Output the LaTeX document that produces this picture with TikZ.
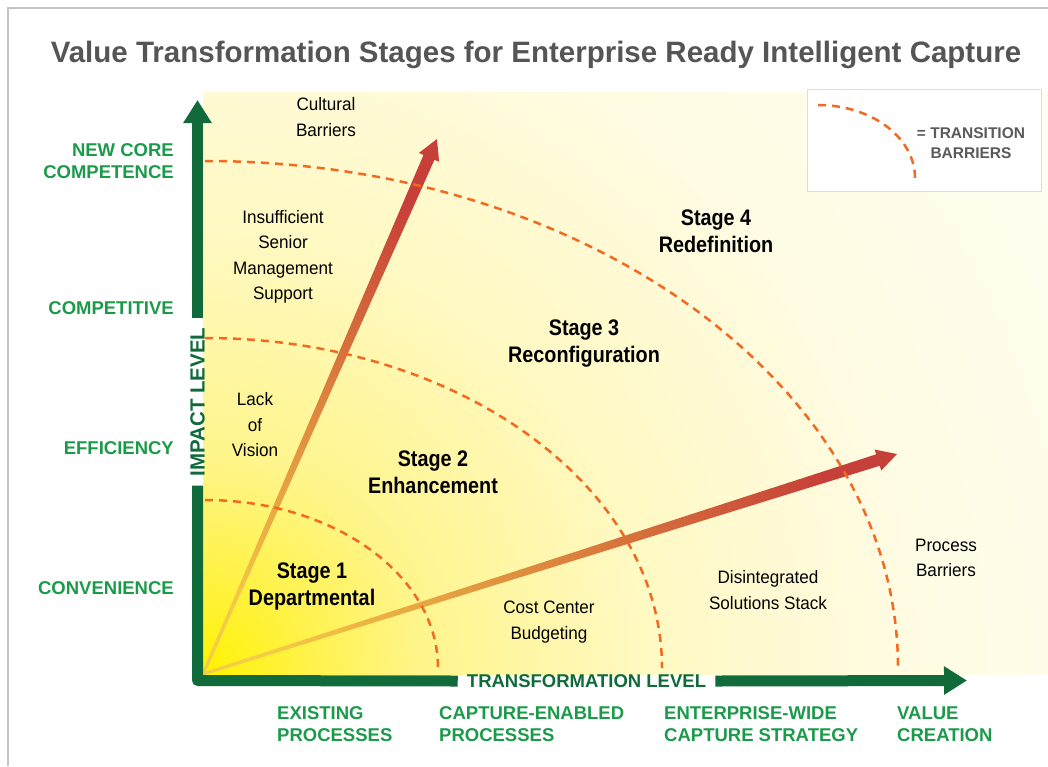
\documentclass[tikz,border=0pt]{standalone}
\usepackage{fontspec}
\setmainfont{Liberation Sans}
\newfontfamily\condfont{Liberation Sans}[FakeStretch=0.88]
\newfontfamily\bodyfont{Liberation Sans}[FakeStretch=0.95]
\usetikzlibrary{calc,arrows.meta}
\definecolor{axisgreen}{HTML}{106A3A}
\definecolor{labelgreen}{HTML}{1B9A4A}
\definecolor{titlegray}{HTML}{555555}
\definecolor{legendgray}{HTML}{5A5A5A}
\definecolor{framegray}{HTML}{C4C4C4}
\definecolor{boxgray}{HTML}{DDDDDD}
\definecolor{dashorange}{HTML}{F26A21}
\definecolor{arrowstart}{HTML}{F4CC45}
\definecolor{arrowmid}{HTML}{E29558}
\definecolor{arrowend}{HTML}{C63F38}
\pgfdeclareradialshading{plotglow}{\pgfpoint{0bp}{0bp}}{rgb(0bp)=(1,0.95,0); rgb(2.5bp)=(1,0.95,0.3); rgb(5bp)=(1,0.96,0.55); rgb(10bp)=(1,0.975,0.76); rgb(16bp)=(1,0.987,0.89); rgb(25bp)=(1,0.995,0.96); rgb(40bp)=(1,0.999,0.99); rgb(50bp)=(1,1,0.996)}
\tikzset{
  barrier/.style={draw=dashorange, line width=2.5pt, dash pattern=on 8pt off 6pt},
  axisline/.style={draw=axisgreen, line width=11pt, line join=round},
  axistitle/.style={font=\bfseries\fontsize{18.5}{22}\selectfont, text=axisgreen, inner xsep=9pt, inner ysep=0pt},
  glabel/.style={font=\bfseries\fontsize{18.5}{22}\selectfont, text=labelgreen, inner sep=0pt},
  body/.style={font=\bodyfont\fontsize{18}{25.5}\selectfont, align=center, text=black, inner sep=0pt},
  stagetext/.style={font=\condfont\bfseries\fontsize{22.5}{27}\selectfont, align=center, text=black, inner sep=0pt},
  titletext/.style={font=\bfseries\fontsize{29.5}{32}\selectfont, text=titlegray, inner sep=0pt},
  legendtext/.style={font=\bfseries\fontsize{15.5}{20}\selectfont, text=legendgray, align=center, inner sep=0pt},
}
\begin{document}
\begin{tikzpicture}[x=1pt,y=-1pt]
\useasboundingbox (0,0) rectangle (1048,766);
% frame
\draw[framegray, line width=2pt] (8,766) -- (8,8) -- (1048,8);
% title
\node[titletext, anchor=base] (title) at (536,62) {Value Transformation Stages for Enterprise Ready Intelligent Capture};
% glow
\begin{scope}
  \clip (203,92) rectangle (1048,674);
  \shade[shading=plotglow] (203,674) circle (1100);
\end{scope}
% legend
\path[draw=boxgray, line width=1pt, fill=white] (807,89) rectangle (1041,191);
\draw[barrier] (818,105) arc[start angle=90, end angle=0, x radius=97pt, y radius=73pt];
\node[legendtext] (legend) at (971,143) {= TRANSITION\\BARRIERS};
% red arrows
\coordinate (O) at (203,674);
\coordinate (T1) at (437,139);
\coordinate (T2) at (897,454);
\coordinate (B1) at ($(T1)!20pt!(O)$);
\coordinate (B2) at ($(T2)!20pt!(O)$);
\shade[left color=arrowstart, middle color=arrowmid, right color=arrowend, shading angle=156.4]
  ($(O)!1.5pt!90:(T1)$) -- ($(B1)!6pt!90:(T1)$) -- ($(B1)!11pt!90:(T1)$) -- (T1)
  -- ($(B1)!11pt!-90:(T1)$) -- ($(B1)!6pt!-90:(T1)$) -- ($(O)!1.5pt!-90:(T1)$) -- cycle;
\shade[left color=arrowstart, middle color=arrowmid, right color=arrowend, shading angle=107.7]
  ($(O)!1.5pt!90:(T2)$) -- ($(B2)!6pt!90:(T2)$) -- ($(B2)!11pt!90:(T2)$) -- (T2)
  -- ($(B2)!11pt!-90:(T2)$) -- ($(B2)!6pt!-90:(T2)$) -- ($(O)!1.5pt!-90:(T2)$) -- cycle;
% transition barriers
\draw[barrier] (205,500) arc[start angle=90, end angle=0, x radius=233pt, y radius=168pt];
\draw[barrier] (205,338) arc[start angle=90, end angle=0, x radius=457pt, y radius=330pt];
\draw[barrier] (205,161) arc[start angle=90, end angle=0, x radius=693pt, y radius=507pt];
% axes
\coordinate (corner) at (197.5,680.5);
\coordinate (ytip) at (197.5,100);
\coordinate (xtip) at (967,680.5);
\node[axistitle, rotate=90, font=\bfseries\fontsize{20.5}{22}\selectfont] (impact) at (197.5,402) {IMPACT LEVEL};
\node[axistitle] (transf) at (586.5,681) {TRANSFORMATION LEVEL};
\draw[axisline] (impact.west) -- (corner) -- (transf.west);
\draw[axisline, -{Triangle[width=27pt,length=23pt]}] (impact.east) -- (ytip);
\draw[axisline, -{Triangle[width=27pt,length=23pt]}] (transf.east) -- (xtip);
% vertical axis labels
\node[glabel, anchor=east, align=right] (newcore) at (174,161) {NEW CORE\\COMPETENCE};
\node[glabel, anchor=east] (competitive) at (174,308) {COMPETITIVE};
\node[glabel, anchor=east] (efficiency) at (174,448) {EFFICIENCY};
\node[glabel, anchor=east] (convenience) at (174,588) {CONVENIENCE};
% horizontal axis labels
\node[glabel, anchor=west, align=left] (existing) at (277,724) {EXISTING\\PROCESSES};
\node[glabel, anchor=west, align=left] (enabled) at (439,724) {CAPTURE-ENABLED\\PROCESSES};
\node[glabel, anchor=west, align=left] (enterprise) at (664,724) {ENTERPRISE-WIDE\\CAPTURE STRATEGY};
\node[glabel, anchor=west, align=left] (value) at (897,724) {VALUE\\CREATION};
% stages
\node[stagetext] (s1) at (312,586) {Stage 1\\Departmental};
\node[stagetext] (s2) at (433,472) {Stage 2\\Enhancement};
\node[stagetext] (s3) at (584,344) {Stage 3\\Reconfiguration};
\node[stagetext] (s4) at (716,231) {Stage 4\\Redefinition};
% barriers text
\node[body] (cultural) at (326,117) {Cultural\\Barriers};
\node[body] (senior) at (283,257) {Insufficient\\Senior\\Management\\Support};
\node[body] (vision) at (255,425) {Lack\\of\\Vision};
\node[body] (budget) at (549,622) {Cost Center\\Budgeting};
\node[body] (stack) at (768,590) {Disintegrated\\Solutions Stack};
\node[body] (process) at (946,558) {Process\\Barriers};
\end{tikzpicture}
\end{document}
